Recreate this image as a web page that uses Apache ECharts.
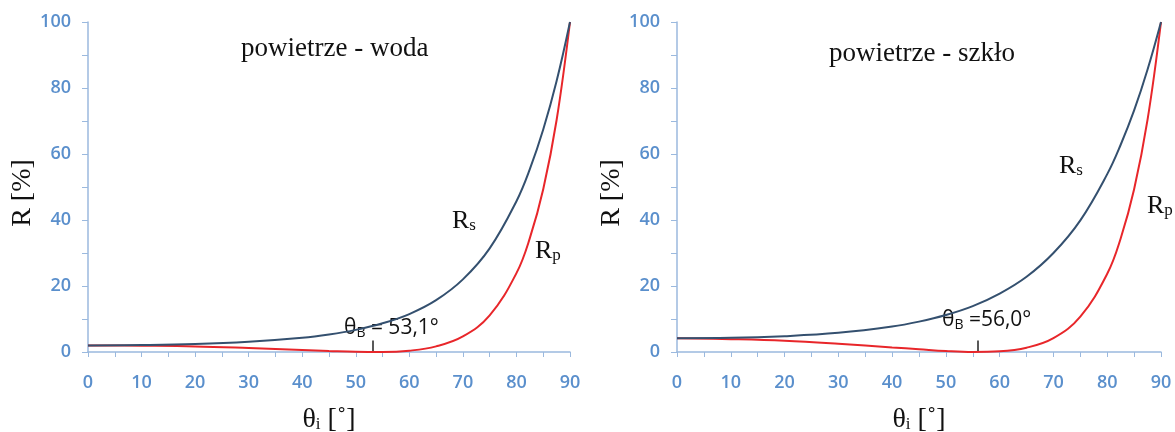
<!DOCTYPE html>
<html><head><meta charset="utf-8">
<script src="https://cdn.jsdelivr.net/npm/echarts@6/dist/echarts.min.js"></script>
<style>html,body{margin:0;padding:0;background:#fff}#c{width:1175px;height:432px}</style>
</head><body><div id="c"></div>
<script>
const angles = [0,10,20,30,40,45,50,55,60,65,70,75,80,82.5,85,87.5,90];
const waterRs = [2.0,2.1,2.4,3.1,4.3,5.3,6.7,8.7,11.5,15.7,22.0,31.4,45.7,55.4,67.4,82.1,100];
const waterRp = [2.0,1.9,1.7,1.2,0.6,0.3,0.05,0.0,0.4,1.7,4.7,11.1,23.9,34.5,49.3,70.3,100];
const glassRs = [4.2,4.3,4.8,5.8,7.7,9.2,11.2,13.9,17.7,22.8,30.0,39.9,53.9,62.8,73.2,85.6,100];
const glassRp = [4.2,3.9,3.4,2.5,1.4,0.85,0.3,0.0,0.2,1.3,4.2,10.7,23.7,34.4,49.3,70.4,100];
const xTicks = [0,10,20,30,40,50,60,70,80,90];
const yTicks = [0,20,40,60,80,100];
const brewsterWater = 53.1, brewsterGlass = 56.0;

const pair = (ys) => angles.map((a,i)=>[a, ys[i]]);
const axisBlue = '#9bb9de';
const labelBlue = '#5a8fcc';
const serif = '"Liberation Serif","DejaVu Serif",serif';
const sans = '"Open Sans","Noto Sans",sans-serif';

function xAxis(gi){
  return {type:'value', gridIndex:gi, min:xTicks[0], max:xTicks[xTicks.length-1], interval:10,
    axisLine:{show:true, lineStyle:{color:axisBlue, width:1.5}},
    axisTick:{show:true, length:5, lineStyle:{color:axisBlue, width:1}},
    minorTick:{show:true, splitNumber:2, length:5, lineStyle:{color:axisBlue, width:1}},
    splitLine:{show:false},
    axisLabel:{color:labelBlue, fontFamily:sans, fontWeight:600, fontSize:18, margin:22},
    name:'{t|θ}{s|i}{t| [˚]}', nameLocation:'middle', nameGap:54,
    nameTextStyle:{rich:{t:{fontFamily:serif, fontSize:28, color:'#111'}, s:{fontFamily:serif, fontSize:17, color:'#111', padding:[9,0,0,0]}}}
  };
}
function yAxis(gi){
  return {type:'value', gridIndex:gi, min:yTicks[0], max:yTicks[yTicks.length-1], interval:20,
    axisLine:{show:true, lineStyle:{color:axisBlue, width:1.5}},
    axisTick:{show:true, length:6, lineStyle:{color:axisBlue, width:1}},
    minorTick:{show:true, splitNumber:2, length:6, lineStyle:{color:axisBlue, width:1}},
    splitLine:{show:false},
    axisLabel:{color:labelBlue, fontFamily:sans, fontWeight:600, fontSize:18, margin:17},
    name:'R [%]', nameLocation:'middle', nameGap:50,
    nameTextStyle:{fontFamily:serif, fontSize:28, color:'#111', padding:[0,12,0,0]}
  };
}
function line(gi, data, color, z){
  return {type:'line', xAxisIndex:gi, yAxisIndex:gi, data:data, smooth:0.4, showSymbol:false, symbol:'none',
    lineStyle:{color:color, width:2}, z:z};
}
function tick(gi, x){
  return {type:'line', xAxisIndex:gi, yAxisIndex:gi, data:[], silent:true,
    markLine:{symbol:'none', silent:true, label:{show:false}, lineStyle:{color:'#222', width:1.5, type:'solid'},
      data:[[{coord:[x,0.3]},{coord:[x,3.5]}]]}};
}
const blue = '#34506f', red = '#e8262a';
const rich = {
  r:{fontFamily:serif, fontSize:26, color:'#111'},
  s:{fontFamily:serif, fontSize:17, color:'#111', padding:[9,0,0,0]},
  th:{fontFamily:sans, fontSize:21, color:'#111'},
  b:{fontFamily:sans, fontSize:14, color:'#111', padding:[9,0,0,0]}
};
function txt(x,y,s){ return {type:'text', left:x, top:y, style:{text:s, rich:rich, fill:'#111'}}; }

const chart = echarts.init(document.getElementById('c'), null, {renderer:'canvas'});
chart.setOption({
  backgroundColor:'#fff',
  animation:false,
  title:[
    {text:'powietrze - woda', left:236, top:30, textStyle:{fontFamily:serif, fontSize:27, fontWeight:'normal', color:'#111'}},
    {text:'powietrze - szkło', left:824, top:35, textStyle:{fontFamily:serif, fontSize:27, fontWeight:'normal', color:'#111'}}
  ],
  grid:[
    {left:88, top:22, width:482, height:330, containLabel:false, outerBoundsMode:'none'},
    {left:677, top:22, width:484, height:330, containLabel:false, outerBoundsMode:'none'}
  ],
  xAxis:[xAxis(0), xAxis(1)],
  yAxis:[yAxis(0), yAxis(1)],
  series:[
    line(0, pair(waterRs), blue, 3), line(0, pair(waterRp), red, 2),
    line(1, pair(glassRs), blue, 3), line(1, pair(glassRp), red, 2),
    tick(0, brewsterWater), tick(1, brewsterGlass)
  ],
  graphic:[
    txt(452, 208, '{r|R}{s|s}'),
    txt(535, 238, '{r|R}{s|p}'),
    txt(1059, 153, '{r|R}{s|s}'),
    txt(1147, 193, '{r|R}{s|p}'),
    txt(344, 318, '{th|θ}{b|B}{th| = 53,1°}'),
    txt(942, 310, '{th|θ}{b|B}{th| =56,0°}')
  ]
});
</script></body></html>
